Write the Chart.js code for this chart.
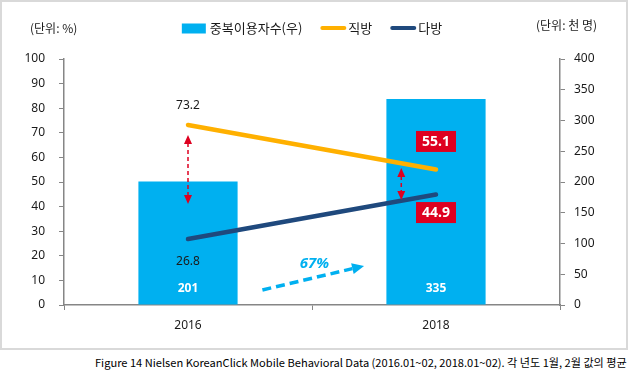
<!DOCTYPE html>
<html>
<head>
<meta charset="utf-8">
<script src="https://cdn.jsdelivr.net/npm/chart.js@4"></script>
<style>
    body { margin: 0; background: #fff; }
    #frame { position: absolute; left: 0; top: 0; width: 624px; height: 346px; border: 2px solid #d9d9d9; }
    #caption { position: absolute; right: 3px; top: 354px; font: 11px 'Noto Sans CJK KR', sans-serif; color: #000;
               white-space: nowrap; transform-origin: right center; }
</style>
</head>
<body>
<div id="frame"><canvas id="chart" width="624" height="346"></canvas></div>
<div id="caption">Figure 14 Nielsen KoreanClick Mobile Behavioral Data (2016.01~02, 2018.01~02). 각 년도 1월, 2월 값의 평균</div>
<script>
// Data
const years = ['2016', '2018'];
const dualUsers = [201, 335];      // 천 명 (right axis)
const zigbang = [73.2, 55.1];      // %
const dabang = [26.8, 44.9];       // %
const seriesNames = ['중복이용자수(우)', '직방', '다방'];
const leftUnit = '(단위: %)';
const rightUnit = '(단위: 천 명)';

// Annotations, in data space (category index, axis value)
const gapArrows = [
    { at: 0, top: 69.1, bottom: 41.1 },
    { at: 0.86, top: 55.7, bottom: 42.7 }
];
const growthArrow = { from: [0.30, 6.1], to: [0.71, 15.9] };
const growthLabel = { text: '67%', at: 0.51, value: 16.8 };

const colors = {
    bar: '#00B0F0',
    zigbang: '#FFB000',
    dabang: '#1F497D',
    red: '#DE0020',
    axis: '#868686',
    text: '#1a1a1a'
};
const numFont = "'Noto Sans', sans-serif";
const krFont = "'Noto Sans CJK KR', sans-serif";

// Labels, red boxes, arrows, legend and unit titles
const overlay = {
    id: 'overlay',
    afterDatasetsDraw(chart) {
        const { ctx, scales: { x, y, y1 } } = chart;
        ctx.save();
        ctx.textAlign = 'center';
        ctx.textBaseline = 'middle';

        // bar values, white, near the bar bottom
        chart.getDatasetMeta(0).data.forEach((bar, i) => {
            ctx.fillStyle = '#fff';
            ctx.font = 'bold 12px ' + numFont;
            ctx.fillText(dualUsers[i], bar.x, y1.getPixelForValue(0) - 16);
        });

        // line values: first year plain, last year in a red box
        [[1, zigbang, -1], [2, dabang, 1]].forEach(([di, values, dir]) => {
            chart.getDatasetMeta(di).data.forEach((pt, i) => {
                const label = values[i].toFixed(1);
                if (i === values.length - 1) {
                    const cy = pt.y + (dir < 0 ? -28 : 18);
                    ctx.fillStyle = colors.red;
                    ctx.fillRect(pt.x - 20, cy - 10.5, 40, 21);
                    ctx.fillStyle = '#fff';
                    ctx.font = 'bold 14px ' + numFont;
                    ctx.fillText(label, pt.x, cy + 0.5);
                } else {
                    ctx.fillStyle = colors.text;
                    ctx.font = '12px ' + numFont;
                    ctx.fillText(label, pt.x, pt.y + (dir < 0 ? -19 : 23));
                }
            });
        });

        // red dashed double arrows between the two lines
        gapArrows.forEach(a => {
            const px = x.getPixelForValue(a.at);
            const t = y.getPixelForValue(a.top);
            const b = y.getPixelForValue(a.bottom);
            ctx.strokeStyle = colors.red;
            ctx.fillStyle = colors.red;
            ctx.lineWidth = 1.5;
            ctx.setLineDash([4, 3]);
            ctx.beginPath();
            ctx.moveTo(px, t + 8);
            ctx.lineTo(px, b - 8);
            ctx.stroke();
            ctx.setLineDash([]);
            ctx.beginPath();
            ctx.moveTo(px, t); ctx.lineTo(px - 4, t + 9); ctx.lineTo(px + 4, t + 9); ctx.closePath();
            ctx.moveTo(px, b); ctx.lineTo(px - 4, b - 9); ctx.lineTo(px + 4, b - 9); ctx.closePath();
            ctx.fill();
        });

        // growth arrow
        const x0 = x.getPixelForValue(growthArrow.from[0]), y0 = y.getPixelForValue(growthArrow.from[1]);
        const x2 = x.getPixelForValue(growthArrow.to[0]), y2 = y.getPixelForValue(growthArrow.to[1]);
        const ang = Math.atan2(y2 - y0, x2 - x0);
        const head = 12;
        ctx.strokeStyle = colors.bar;
        ctx.fillStyle = colors.bar;
        ctx.lineWidth = 3.5;
        ctx.setLineDash([9, 5]);
        ctx.beginPath();
        ctx.moveTo(x0, y0);
        ctx.lineTo(x2 - Math.cos(ang) * head, y2 - Math.sin(ang) * head);
        ctx.stroke();
        ctx.setLineDash([]);
        ctx.beginPath();
        ctx.moveTo(x2, y2);
        ctx.lineTo(x2 - Math.cos(ang) * head - Math.sin(ang) * 5.5, y2 - Math.sin(ang) * head + Math.cos(ang) * 5.5);
        ctx.lineTo(x2 - Math.cos(ang) * head + Math.sin(ang) * 5.5, y2 - Math.sin(ang) * head - Math.cos(ang) * 5.5);
        ctx.closePath();
        ctx.fill();
        ctx.font = 'italic bold 15px ' + numFont;
        ctx.fillText(growthLabel.text, x.getPixelForValue(growthLabel.at), y.getPixelForValue(growthLabel.value));
        ctx.restore();
    },
    afterDraw(chart) {
        const { ctx, chartArea } = chart;
        ctx.save();
        ctx.textBaseline = 'middle';
        ctx.fillStyle = colors.text;
        ctx.font = '12px ' + krFont;
        ctx.textAlign = 'left';
        ctx.fillText(leftUnit, 28, 26);
        ctx.fillText(rightUnit, 534, 23);

        // legend
        ctx.font = '13px ' + krFont;
        const swatch = 26, gapText = 2, gapItem = 18;
        const widths = seriesNames.map(n => ctx.measureText(n).width);
        const total = widths.reduce((s, w) => s + swatch + gapText + w, 0) + gapItem * (seriesNames.length - 1);
        let cx = (chartArea.left + chartArea.right) / 2 - total / 2;
        const ly = 26;
        const swatchColors = [colors.bar, colors.zigbang, colors.dabang];
        seriesNames.forEach((name, i) => {
            if (i === 0) {
                ctx.fillStyle = swatchColors[i];
                ctx.fillRect(cx, ly - 4.5, swatch - 2, 10);
            } else {
                ctx.strokeStyle = swatchColors[i];
                ctx.lineWidth = 4;
                ctx.lineCap = 'round';
                ctx.beginPath();
                ctx.moveTo(cx + 2, ly);
                ctx.lineTo(cx + swatch - 2, ly);
                ctx.stroke();
            }
            ctx.fillStyle = colors.text;
            ctx.fillText(name, cx + swatch + gapText, ly);
            cx += swatch + gapText + widths[i] + gapItem;
        });
        ctx.restore();
    }
};

const axisGrid = {
    drawOnChartArea: false,
    drawTicks: true,
    tickLength: 5,
    color: colors.axis
};

new Chart(document.getElementById('chart'), {
    type: 'bar',
    data: {
        labels: years,
        datasets: [
            {
                label: seriesNames[0],
                data: dualUsers,
                backgroundColor: colors.bar,
                yAxisID: 'y1',
                barPercentage: 0.4,
                categoryPercentage: 1,
                order: 2
            },
            {
                type: 'line',
                label: seriesNames[1],
                data: zigbang,
                borderColor: colors.zigbang,
                borderWidth: 4.5,
                borderCapStyle: 'round',
                pointRadius: 0,
                yAxisID: 'y',
                order: 1
            },
            {
                type: 'line',
                label: seriesNames[2],
                data: dabang,
                borderColor: colors.dabang,
                borderWidth: 4.5,
                borderCapStyle: 'round',
                pointRadius: 0,
                yAxisID: 'y',
                order: 1
            }
        ]
    },
    options: {
        responsive: false,
        animation: false,
        layout: { padding: { top: 57, left: 0, right: 0, bottom: 0 } },
        plugins: {
            legend: { display: false },
            tooltip: { enabled: false }
        },
        scales: {
            x: {
                grid: { ...axisGrid, offset: true },
                border: { color: colors.axis, width: 1.5 },
                ticks: { color: colors.text, font: { family: numFont, size: 12 }, padding: 8 },
                afterFit: s => { s.height = 43; }
            },
            y: {
                position: 'left',
                min: 0,
                max: 100,
                grid: axisGrid,
                border: { color: colors.axis, width: 1.5 },
                ticks: { stepSize: 10, color: colors.text, font: { family: numFont, size: 12 }, padding: 14 },
                afterFit: s => { s.width = 62; }
            },
            y1: {
                position: 'right',
                min: 0,
                max: 400,
                grid: axisGrid,
                border: { color: colors.axis, width: 1.5 },
                ticks: { stepSize: 50, color: colors.text, font: { family: numFont, size: 12 }, padding: 9 },
                afterFit: s => { s.width = 66; }
            }
        }
    },
    plugins: [overlay]
});

// squeeze the caption to the reference width
const cap = document.getElementById('caption');
cap.style.transform = 'scaleX(' + (532 / cap.offsetWidth) + ')';
</script>
</body>
</html>
